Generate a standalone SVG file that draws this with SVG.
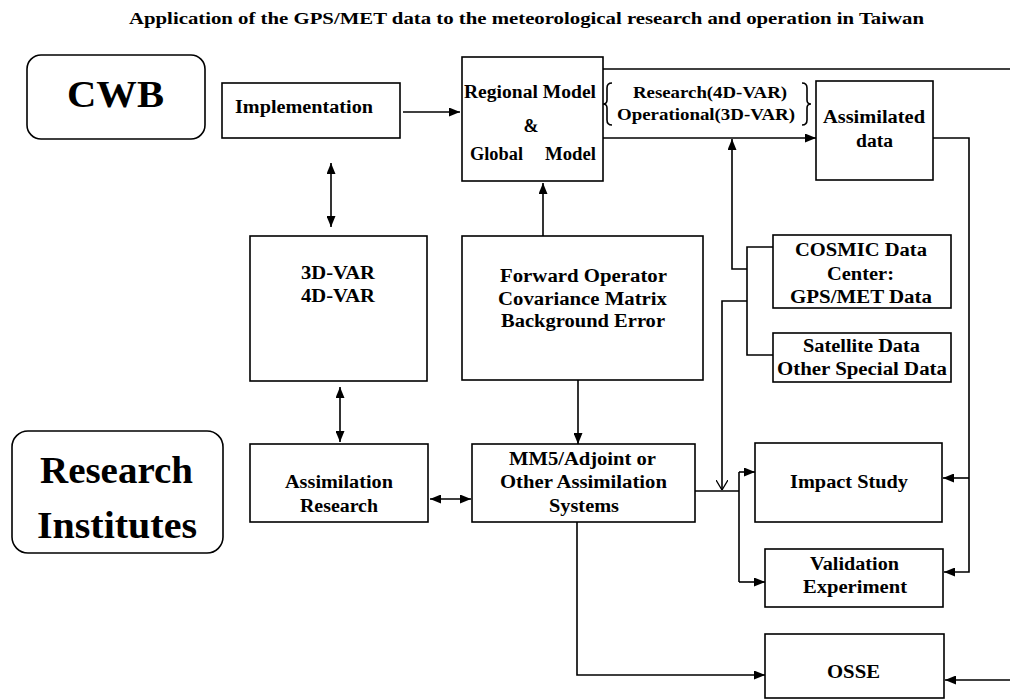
<svg xmlns="http://www.w3.org/2000/svg" width="1010" height="700" viewBox="0 0 1010 700">
<style>
.t{font-family:"Liberation Serif","Times New Roman",serif;font-weight:bold;fill:#000;font-size:18px}
.b{fill:#fff;stroke:#000;stroke-width:1.6}
.c{fill:none;stroke:#000;stroke-width:1.6}
</style>
<defs>
<marker id="a" markerUnits="userSpaceOnUse" markerWidth="11" markerHeight="9" refX="11" refY="4.5" orient="auto-start-reverse"><path d="M0,0 L11,4.5 L0,9 Z" fill="#000"/></marker>
<marker id="v" markerUnits="userSpaceOnUse" markerWidth="10" markerHeight="12" refX="10" refY="6" orient="auto"><path d="M0,0 L10,6 L0,12" fill="none" stroke="#000" stroke-width="1.3"/></marker>
</defs>
<rect width="1010" height="700" fill="#fff"/>
<text class="t" x="129" y="24" style="font-size:17px" textLength="795" lengthAdjust="spacingAndGlyphs">Application of the GPS/MET data to the meteorological research and operation in Taiwan</text>

<g id="cwb"><rect class="b" x="27" y="55" width="178" height="84" rx="14"/><text class="t" x="67" y="107" style="font-size:38px" textLength="97" lengthAdjust="spacingAndGlyphs">CWB</text></g>
<g id="research-institutes"><rect class="b" x="12" y="431" width="211" height="122" rx="16"/><text class="t" x="40" y="483" style="font-size:38px" textLength="153" lengthAdjust="spacingAndGlyphs">Research</text><text class="t" x="37" y="538" style="font-size:38px" textLength="160" lengthAdjust="spacingAndGlyphs">Institutes</text></g>
<g id="implementation"><rect class="b" x="222" y="83" width="178" height="55"/><text class="t" x="235" y="113" textLength="138" lengthAdjust="spacingAndGlyphs">Implementation</text></g>
<g id="models"><rect class="b" x="462" y="57" width="141" height="124"/><text class="t" x="464" y="98" textLength="132" lengthAdjust="spacingAndGlyphs">Regional Model</text><text class="t" x="531" y="132" text-anchor="middle">&amp;</text><text class="t" x="470" y="160" textLength="53" lengthAdjust="spacingAndGlyphs">Global</text><text class="t" x="545" y="160" textLength="51" lengthAdjust="spacingAndGlyphs">Model</text></g>
<g id="var-modes"><path class="c" d="M612,83 Q607,83 607,88 L607,100 Q607,104 603,104 Q607,104 607,108 L607,120 Q607,125 612,125" stroke-width="1.3"/><path class="c" d="M802,83 Q807,83 807,88 L807,100 Q807,104 811,104 Q807,104 807,108 L807,120 Q807,125 802,125" stroke-width="1.3"/><text class="t" x="633" y="98" style="font-size:17px" textLength="154" lengthAdjust="spacingAndGlyphs">Research(4D-VAR)</text><text class="t" x="617" y="120" style="font-size:17px" textLength="178" lengthAdjust="spacingAndGlyphs">Operational(3D-VAR)</text></g>
<g id="assimilated"><rect class="b" x="816" y="81" width="117" height="99"/><text class="t" x="823" y="123" textLength="102" lengthAdjust="spacingAndGlyphs">Assimilated</text><text class="t" x="856" y="147" textLength="37" lengthAdjust="spacingAndGlyphs">data</text></g>
<g id="var"><rect class="b" x="250" y="236" width="177" height="145"/><text class="t" x="301" y="279" textLength="74" lengthAdjust="spacingAndGlyphs">3D-VAR</text><text class="t" x="301" y="302" textLength="74" lengthAdjust="spacingAndGlyphs">4D-VAR</text></g>
<g id="forward"><rect class="b" x="462" y="236" width="241" height="144"/><text class="t" x="500" y="282" textLength="167" lengthAdjust="spacingAndGlyphs">Forward Operator</text><text class="t" x="498" y="305" textLength="169" lengthAdjust="spacingAndGlyphs">Covariance Matrix</text><text class="t" x="501" y="327" textLength="164" lengthAdjust="spacingAndGlyphs">Background Error</text></g>
<g id="cosmic"><rect class="b" x="773" y="235" width="178" height="73"/><text class="t" x="795" y="256" textLength="132" lengthAdjust="spacingAndGlyphs">COSMIC Data</text><text class="t" x="827" y="280" textLength="67" lengthAdjust="spacingAndGlyphs">Center:</text><text class="t" x="790" y="303" textLength="142" lengthAdjust="spacingAndGlyphs">GPS/MET Data</text></g>
<g id="satellite"><rect class="b" x="773" y="333" width="178" height="49"/><text class="t" x="803" y="352" textLength="117" lengthAdjust="spacingAndGlyphs">Satellite Data</text><text class="t" x="777" y="375" textLength="170" lengthAdjust="spacingAndGlyphs">Other Special Data</text></g>
<g id="assim-research"><rect class="b" x="250" y="444" width="178" height="78"/><text class="t" x="285" y="488" textLength="108" lengthAdjust="spacingAndGlyphs">Assimilation</text><text class="t" x="300" y="512" textLength="78" lengthAdjust="spacingAndGlyphs">Research</text></g>
<g id="mm5"><rect class="b" x="472" y="444" width="223" height="78"/><text class="t" x="509" y="465" textLength="147" lengthAdjust="spacingAndGlyphs">MM5/Adjoint or</text><text class="t" x="500" y="488" textLength="167" lengthAdjust="spacingAndGlyphs">Other Assimilation</text><text class="t" x="549" y="512" textLength="70" lengthAdjust="spacingAndGlyphs">Systems</text></g>
<g id="impact"><rect class="b" x="755" y="443" width="187" height="79"/><text class="t" x="790" y="488" style="font-size:19px" textLength="118" lengthAdjust="spacingAndGlyphs">Impact Study</text></g>
<g id="validation"><rect class="b" x="765" y="549" width="178" height="58"/><text class="t" x="810" y="570" textLength="89" lengthAdjust="spacingAndGlyphs">Validation</text><text class="t" x="803" y="593" textLength="104" lengthAdjust="spacingAndGlyphs">Experiment</text></g>
<g id="osse"><rect class="b" x="765" y="634" width="179" height="64"/><text class="t" x="827" y="678" style="font-size:19px" textLength="53" lengthAdjust="spacingAndGlyphs">OSSE</text></g>

<g id="connectors">
<path class="c" d="M403,112 H460" marker-end="url(#a)"/>
<path class="c" d="M331,163 V227" marker-start="url(#a)" marker-end="url(#a)"/>
<path class="c" d="M543,236 V183" marker-end="url(#a)"/>
<path class="c" d="M603,138 H816" marker-end="url(#a)"/>
<path class="c" d="M603,69 H1010"/>
<path class="c" d="M747,269 H732 V139" marker-end="url(#a)"/>
<path class="c" d="M773,247 H747 V355 H773"/>
<path class="c" d="M747,301 H722 V490" marker-end="url(#v)"/>
<path class="c" d="M695,491 H739"/>
<path class="c" d="M739,472 V582"/>
<path class="c" d="M739,472 H755" marker-end="url(#a)"/>
<path class="c" d="M739,582 H765" marker-end="url(#a)"/>
<path class="c" d="M933,138 H969 V572 H944" marker-end="url(#a)"/>
<path class="c" d="M969,478 H943" marker-end="url(#a)"/>
<path class="c" d="M578,380 V444" marker-end="url(#a)"/>
<path class="c" d="M340,387 V442" marker-start="url(#a)" marker-end="url(#a)"/>
<path class="c" d="M430,499 H471" marker-start="url(#a)" marker-end="url(#a)"/>
<path class="c" d="M577,522 V675 H765" marker-end="url(#a)"/>
<path class="c" d="M1010,680 H945" marker-end="url(#a)"/>
</g>
</svg>
